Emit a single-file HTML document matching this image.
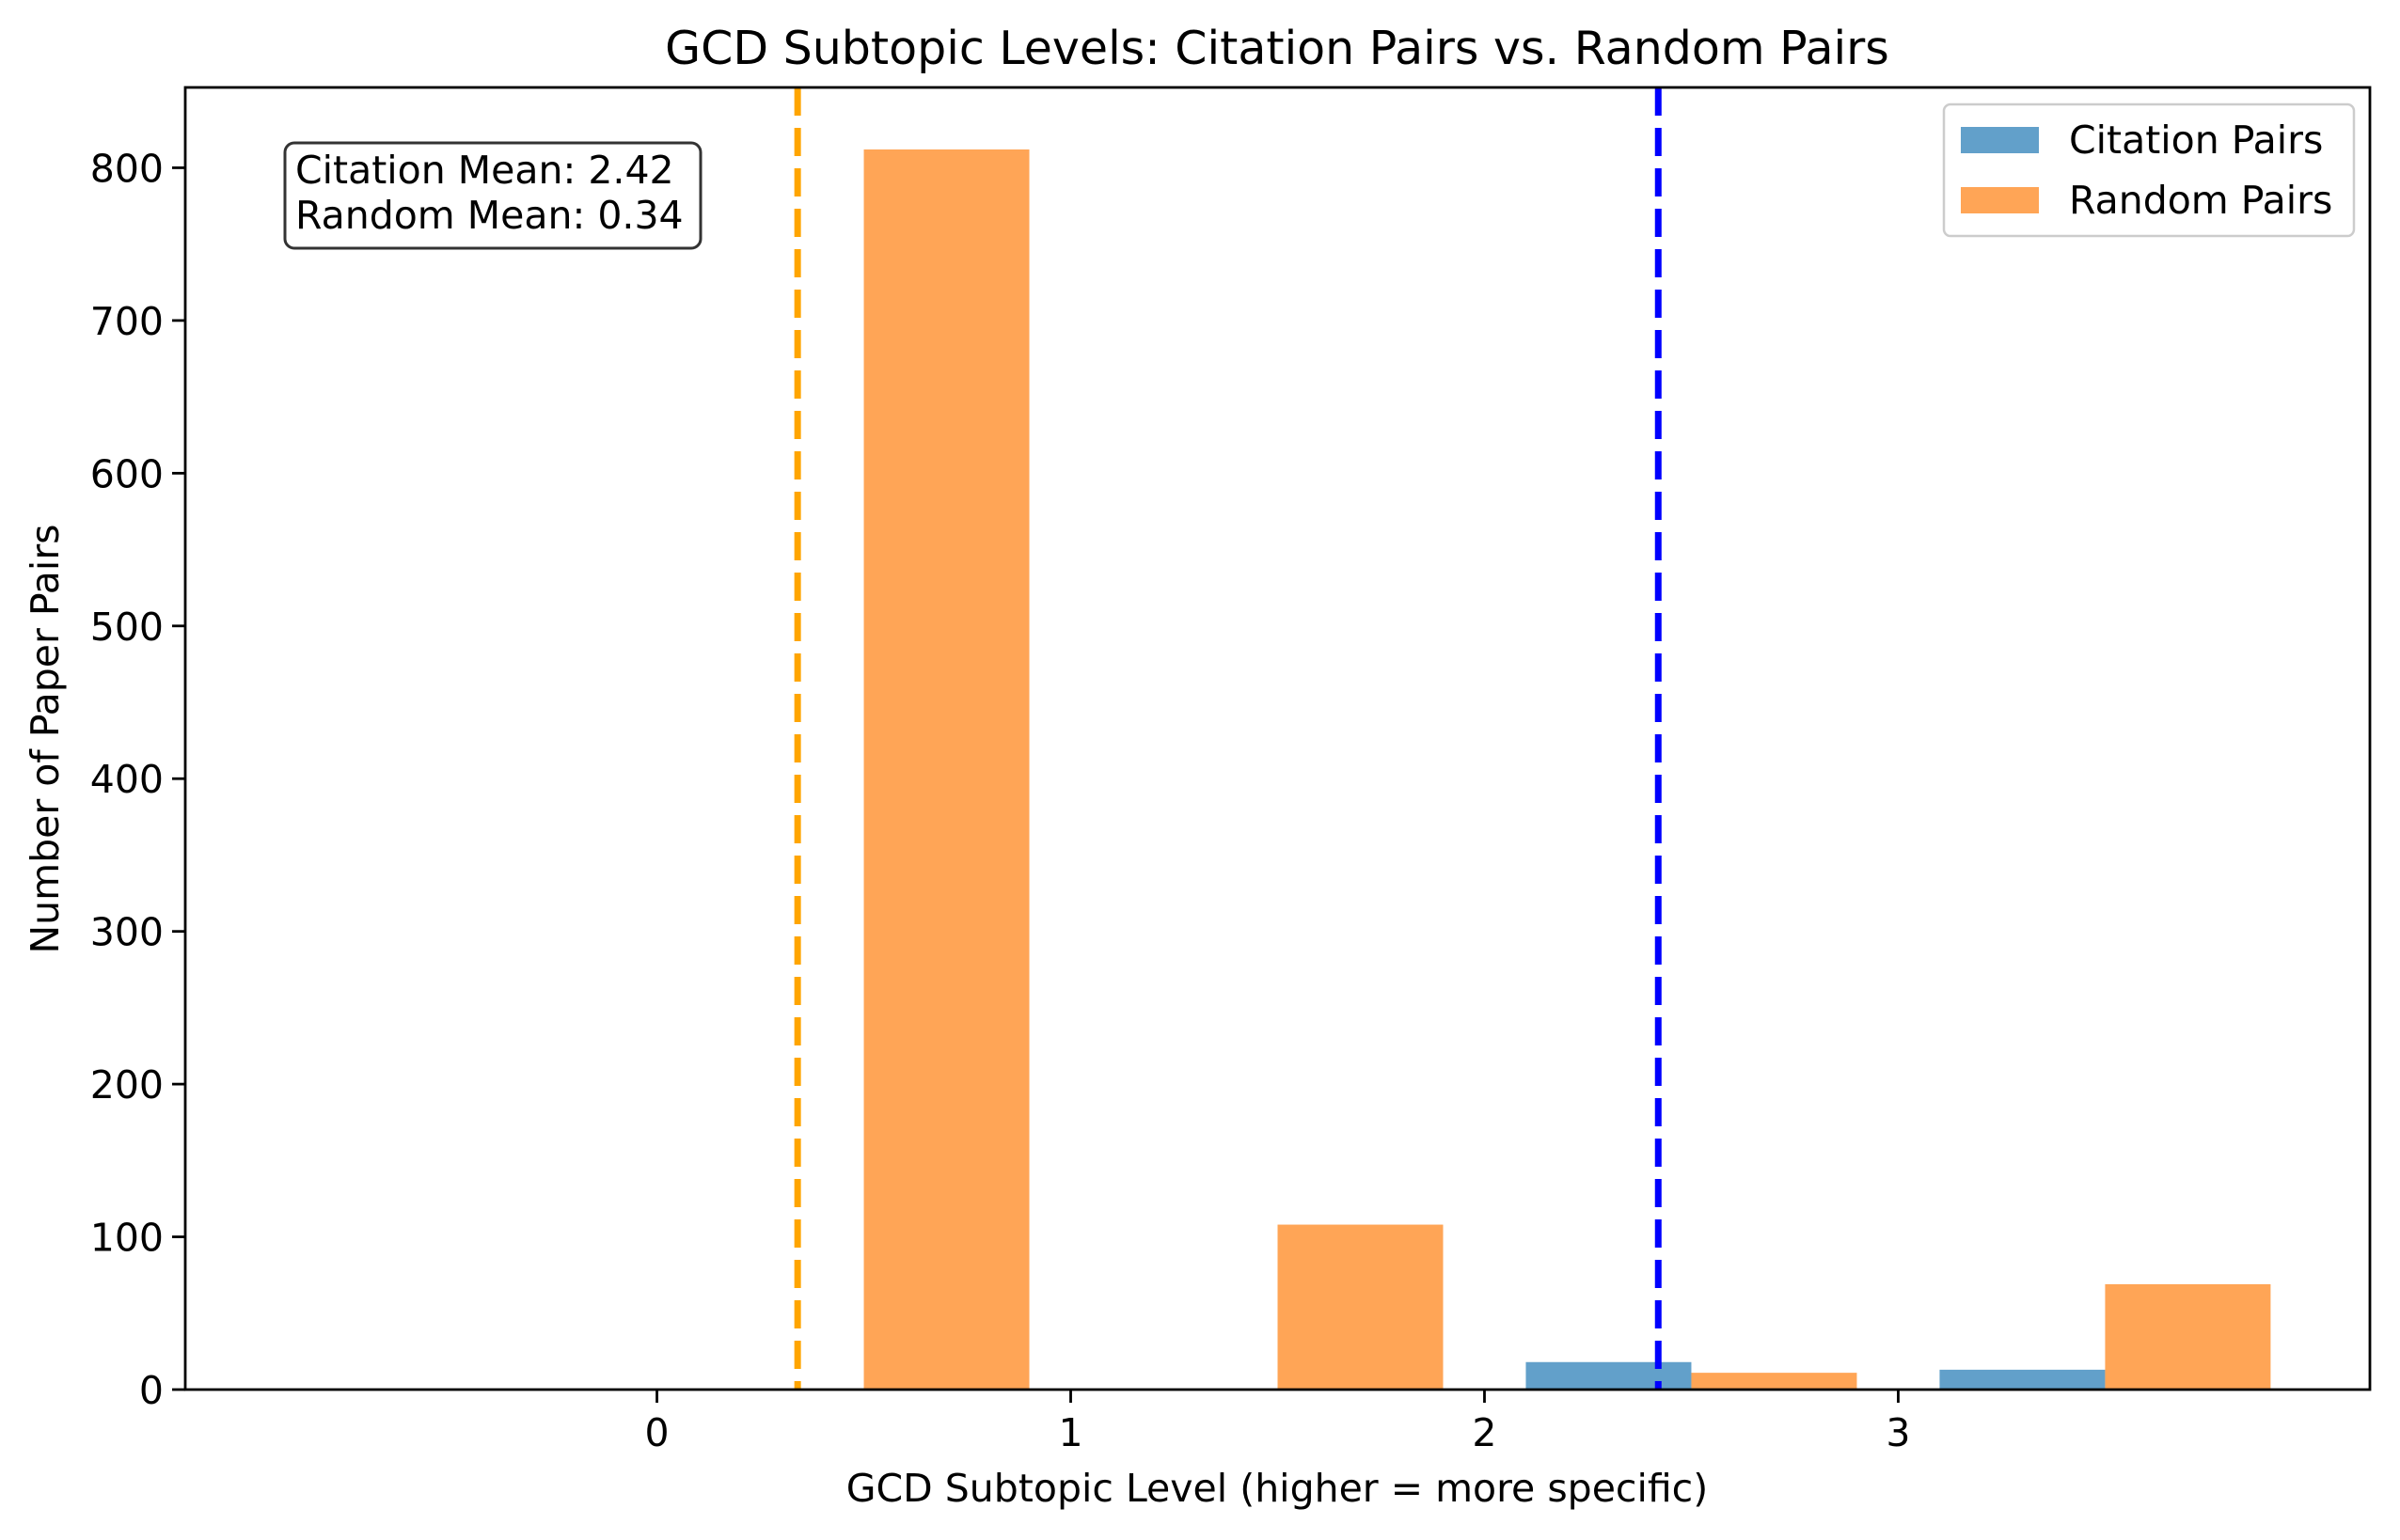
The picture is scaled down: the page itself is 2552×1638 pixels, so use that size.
<!DOCTYPE html>
<html><head><meta charset="utf-8"><style>
html,body{margin:0;padding:0;background:#fff}
svg{display:block;font-family:"DejaVu Sans","Liberation Sans",sans-serif}
</style></head><body>
<svg id="chart" width="2552" height="1638" viewBox="0 0 2552 1638" xmlns="http://www.w3.org/2000/svg">
<rect width="2552" height="1638" fill="#fff"/>
<text x="1358" y="68" font-size="49" text-anchor="middle">GCD Subtopic Levels: Citation Pairs vs. Random Pairs</text>
<g id="plot"></g>
<text x="1358" y="1597" font-size="41" text-anchor="middle">GCD Subtopic Level (higher = more specific)</text>
<text transform="translate(62,786) rotate(-90)" font-size="41" text-anchor="middle">Number of Paper Pairs</text>
</svg>
<script>
const levels = [-1, 0, 1, 2, 3];
const citationCounts = [0, 0, 0, 18, 13];
const randomCounts = [0, 812, 108, 11, 69];
const xTicks = [0, 1, 2, 3];
const yTicks = [0, 100, 200, 300, 400, 500, 600, 700, 800];
const citationMean = 2.42;
const randomMean = 0.34;

const L=197, R=2520, T=93, B=1478;
const xmin=-1.14, xmax=4.14, ymax=852.6;
const X=v=>L+(v-xmin)/(xmax-xmin)*(R-L);
const Y=v=>B-v/ymax*(B-T);
const NS="http://www.w3.org/2000/svg";
const g=document.getElementById('plot');
function mk(tag,attrs,parent){const e=document.createElementNS(NS,tag);for(const k in attrs)e.setAttribute(k,attrs[k]);(parent||g).appendChild(e);return e;}

levels.forEach((lv,i)=>{
  const b=mk('rect',{x:X(lv+0.1),y:Y(citationCounts[i]),width:X(lv+0.5)-X(lv+0.1),height:B-Y(citationCounts[i]),fill:'#1f77b4','fill-opacity':0.7});
  
  
  const o=mk('rect',{x:X(lv+0.5),y:Y(randomCounts[i]),width:X(lv+0.9)-X(lv+0.5),height:B-Y(randomCounts[i]),fill:'#ff7f0e','fill-opacity':0.7});
  
  
});

const rl=mk('line',{x1:X(randomMean),x2:X(randomMean),y1:T,y2:B,stroke:'#ffa500','stroke-width':7,'stroke-dasharray':'30,13'});


const cl=mk('line',{x1:X(citationMean),x2:X(citationMean),y1:T,y2:B,stroke:'#0000ff','stroke-width':7,'stroke-dasharray':'30,13'});



xTicks.forEach(t=>{
  const l=mk('line',{x1:X(t),x2:X(t),y1:B,y2:B+14,stroke:'#000','stroke-width':2.8});
  
  
  const tx=mk('text',{x:X(t),y:B+60,'font-size':41,'text-anchor':'middle'});
  tx.textContent=t;
  
  
});
yTicks.forEach(t=>{
  const l=mk('line',{x1:L-14,x2:L,y1:Y(t),y2:Y(t),stroke:'#000','stroke-width':2.8});
  
  
  const tx=mk('text',{x:L-23,y:Y(t)+15,'font-size':41,'text-anchor':'end'});
  tx.textContent=t;
  
  
});
const fr=mk('rect',{x:L,y:T,width:R-L,height:B-T,fill:'none',stroke:'#000','stroke-width':2.8});



// stats box
const sb=mk('rect',{x:303,y:152,width:442,height:112,rx:10,fill:'#fff',stroke:'#333','stroke-width':3});


const s1=mk('text',{x:314,y:195,'font-size':41});
s1.textContent='Citation Mean: '+citationMean.toFixed(2);


const s2=mk('text',{x:314,y:243,'font-size':41});
s2.textContent='Random Mean: '+randomMean.toFixed(2);



// legend
const lg=mk('rect',{x:2067,y:111,width:436,height:140,rx:7,fill:'#fff',stroke:'#ccc','stroke-width':2.5});


[['Citation Pairs','#1f77b4',148],['Random Pairs','#ff7f0e',212]].forEach(([n,c,y],i)=>{
  const p=mk('rect',{x:2085,y:y-13,width:83,height:28,fill:c,'fill-opacity':0.7});
  
  
  const t=mk('text',{x:2200,y:y+15,'font-size':41});
  t.textContent=n;
  
  
});
</script>
</body></html>
